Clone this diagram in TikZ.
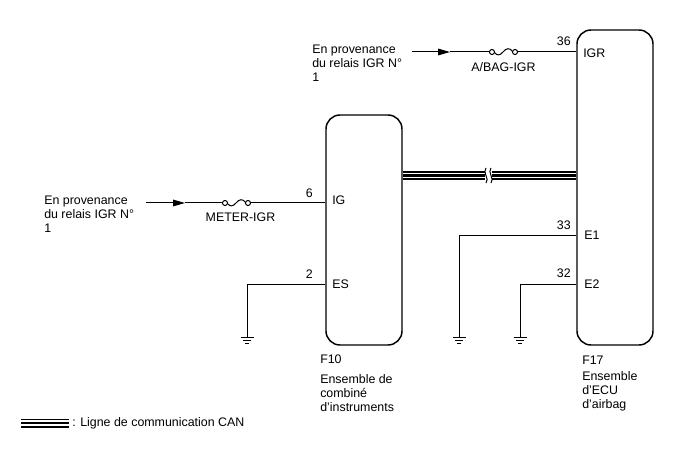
\documentclass[tikz,border=0pt]{standalone}
\usepackage{fontspec}
\setmainfont{Liberation Sans}
\usetikzlibrary{arrows.meta}

\begin{document}
\begin{tikzpicture}[%
x=0.75pt, y=-0.75pt,
font=\fontsize{9.3}{10.5}\selectfont,
every node/.style={inner sep=0pt},
unit/.style={draw, line width=1.1pt, rounded corners=10.5pt, minimum width=57pt},
wire/.style={line width=0.75pt},
feed/.style={wire, -{Triangle[length=9pt, width=5pt]}},
canbus/.style={line width=6.75pt, postaction={draw, white, line width=4pt},
    postaction={draw, black, line width=1.6pt}},
txt/.style={align=left, anchor=north west},
pinnum/.style={anchor=south east},
pinname/.style={anchor=west},
fuse/.pic={
  \coordinate (-l) at (-2.5,0);
  \coordinate (-r) at (25.5,0);
  \draw[wire] (0,0) circle (1.9pt) (23,0) circle (1.9pt);
  \draw[wire] (2.5,0.5) .. controls (5,4) and (8,3.5) .. (11,0)
    .. controls (14,-4) and (18,-4.5) .. (20.5,-0.5);},
gnd/.pic={
  \draw[wire] (-6.5,0) -- (6.5,0) (-4,3) -- (4,3) (-2,6) -- (2,6);}
]
\useasboundingbox (0,0) rectangle (688,463);

\node[unit, minimum height=172.5pt] (f10) at (364,230) {};
\node[unit, minimum height=236.25pt] (f17) at (615,187.5) {};

% alimentation airbag
\node[txt] (srcAtxt) at (312,45) {En provenance\\du relais IGR N°\\1};
\coordinate (srcA) at (412,52);
\coordinate (tipA) at (450,52);
\pic (fa) at (492,52) {fuse};
\draw[feed] (srcA) -- (tipA);
\draw[wire] (tipA) -- (fa-l);
\draw[wire] (fa-r) -- (f17.west |- srcA);
\node[anchor=north] (faname) at (503.5,62) {A/BAG-IGR};
\node[pinnum] (n36) at (571,45.5) {36};
\node[pinname] (igr) at (583,53) {IGR};

% alimentation combine
\node[txt] (srcBtxt) at (44,196) {En provenance\\du relais IGR N°\\1};
\coordinate (srcB) at (146,203);
\coordinate (tipB) at (185,203);
\pic (fb) at (225,203) {fuse};
\draw[feed] (srcB) -- (tipB);
\draw[wire] (tipB) -- (fb-l);
\draw[wire] (fb-r) -- (f10.west |- srcB);
\node[anchor=north] (fbname) at (240.5,213) {METER-IGR};
\node[pinnum] (n6) at (313,197.5) {6};
\node[pinname] (ig) at (332,200.5) {IG};

% masses
\coordinate (gA) at (247,337);
\coordinate (gB) at (459,337);
\coordinate (gC) at (520,337);
\foreach \g in {gA,gB,gC} \pic at (\g) {gnd};
\draw[wire] (f10.west |- 0,284) -| (gA);
\draw[wire] (f17.west |- 0,235) -| (gB);
\draw[wire] (f17.west |- 0,284) -| (gC);
\node[pinnum] (n2) at (313,279) {2};
\node[pinname] (es) at (332,284) {ES};
\node[pinnum] (n33) at (571,230) {33};
\node[pinname] (e1) at (584,235) {E1};
\node[pinnum] (n32) at (571,278) {32};
\node[pinname] (e2) at (584,284) {E2};

% CAN
\coordinate (brkL) at (485,175.5);
\coordinate (brkR) at (492,175.5);
\draw[canbus] (f10.east |- brkL) -- (brkL);
\draw[canbus] (brkR) -- (f17.west |- brkR);
\draw[wire] (486,168) .. controls (482,172) and (490,179) .. (486,183);
\draw[wire] (491,168) .. controls (487,172) and (495,179) .. (491,183);

\node[txt] (f10txt) at (320,355) {F10\\[4pt]Ensemble de\\combiné\\d'instruments};
\node[txt] (f17txt) at (582,356) {F17\\[1.5pt]Ensemble\\d'ECU\\d'airbag};

% legende
\coordinate (lgA) at (21,423);
\coordinate (lgB) at (69,423);
\draw[canbus] (lgA) -- (lgB);
\node[anchor=west] (lgtxt) at (72,423) {: Ligne de communication CAN};
\end{tikzpicture}
\end{document}
